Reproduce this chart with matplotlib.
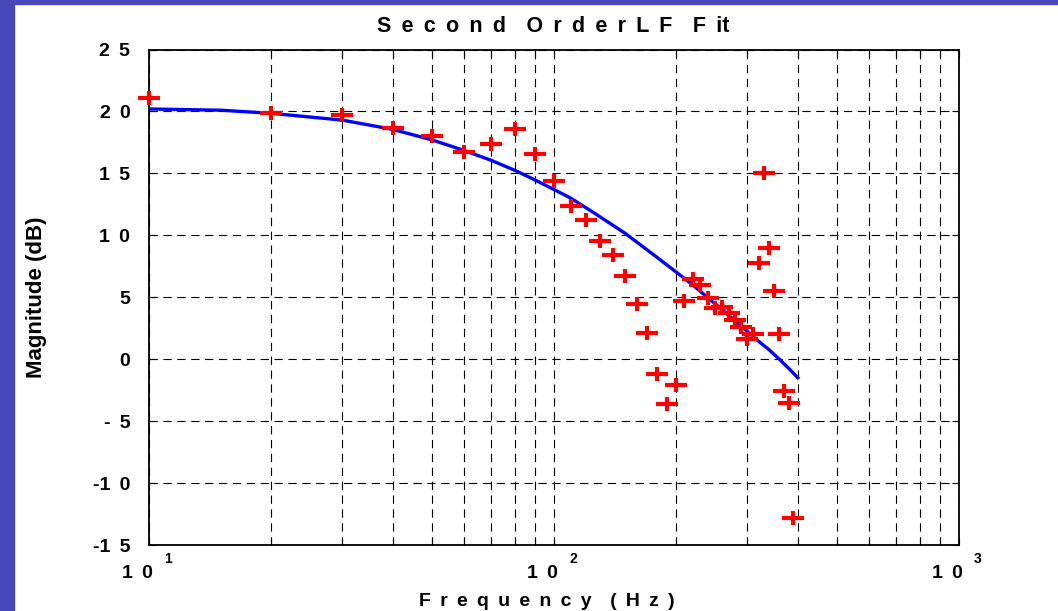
import numpy as np
import matplotlib
matplotlib.use('Agg')
import matplotlib.pyplot as plt
from matplotlib.path import Path
from matplotlib.patches import Rectangle
from matplotlib.ticker import NullFormatter

# measured points (Hz, dB)
freq = [10, 20, 30, 40, 50, 60, 70, 80, 90, 100,
        110, 120, 130, 140, 150, 160, 170, 180, 190, 200,
        210, 220, 230, 240, 250, 260, 270, 280, 290, 300,
        310, 320, 330, 340, 350, 360, 370, 380, 390]
mag = [21.1, 19.9, 19.7, 18.7, 18.0, 16.75, 17.35, 18.6, 16.6, 14.4,
       12.4, 11.25, 9.55, 8.4, 6.7, 4.45, 2.1, -1.2, -3.6, -2.1,
       4.7, 6.5, 6.0, 4.9, 4.1, 4.25, 3.75, 3.2, 2.6, 1.6,
       2.0, 7.8, 15.0, 9.0, 5.5, 2.05, -2.55, -3.5, -12.85]

# second order fit
fit_freq = [10, 15, 20, 30, 40, 50, 60, 70, 80, 90, 100, 110, 125, 150,
            180, 200, 220, 240, 260, 280, 300, 320, 340, 360, 380, 400]
fit_mag = [20.2, 20.1, 19.85, 19.3, 18.55, 17.7, 16.85, 16.05, 15.25, 14.45,
           13.7, 13.0, 11.85, 10.15, 8.2, 7.05, 6.0, 4.95, 4.0, 3.1,
           2.25, 1.45, 0.75, 0.0, -0.75, -1.5]

G = ' \u2009'   # wide letter gap used by the original slide
y_ticks = [25, 20, 15, 10, 5, 0, -5, -10, -15]
y_tick_labels = ['2' + G + '5', '2' + G + '0', '1' + G + '5', '1' + G + '0', '5', '0',
                 '-' + G + '5', '-1' + G + '0', '-1' + G + '5']
x_ticks = [10, 100, 1000]
x_base_labels = ['1' + G + '0'] * 3
x_sup_labels = ['1', '2', '3']

title = 'S' + G + 'e' + G + 'c' + G + 'o' + G + 'n' + G + 'd' + G + G + \
        'O' + G + 'r' + G + 'd' + G + 'e' + G + 'r' + G + 'L' + G + 'F' + G + G + 'F' + G + 'it'
xlabel = 'F' + G + 'r' + G + 'e' + G + 'q' + G + 'u' + G + 'e' + G + 'n' + G + 'c' + G + 'y' + \
         G + G + '(' + G + 'H' + G + 'z' + G + ')'

plt.rcParams['font.family'] = ['Liberation Sans', 'DejaVu Sans']
plt.rcParams['font.weight'] = 'bold'
plt.rcParams['lines.scale_dashes'] = False

W, H = 1058, 611
fig = plt.figure(figsize=(W / 100, H / 100), dpi=100)
fig.patch.set_facecolor('white')

# blue slide border, left and top
fig.patches.append(Rectangle((0, 0), 14 / W, 1, transform=fig.transFigure,
                             color='#4848b8', zorder=0))
fig.patches.append(Rectangle((0, 1 - 4 / H), 1, 4 / H, transform=fig.transFigure,
                             color='#4848b8', zorder=0))

ax = fig.add_axes([149 / W, 1 - 545 / H, (959 - 149) / W, (545 - 49.5) / H])

# wide, flat "+" marker
plus = Path([(-1, 0), (1, 0), (0, -0.6), (0, 0.6)],
            [Path.MOVETO, Path.LINETO, Path.MOVETO, Path.LINETO])

ax.semilogx(fit_freq, fit_mag, color='#0000ff', lw=2.4, zorder=3)
ax.plot(freq, mag, linestyle='none', marker=plus, ms=16.5, mew=3.0,
        color='#ff0000', zorder=4, clip_on=False)

ax.set_xlim(10, 1000)
ax.set_ylim(-15, 25)
ax.set_xticks(x_ticks, ['', '', ''])
ax.set_yticks(y_ticks, y_tick_labels)
ax.xaxis.set_minor_formatter(NullFormatter())

dash = (0, (6, 4))
ax.grid(True, which='both', axis='x', linestyle=dash, color='black', lw=0.8)
ax.grid(True, which='major', axis='y', linestyle=dash, color='black', lw=0.8)

ax.tick_params(which='both', direction='in', top=True, right=True, length=5, width=0.8)
ax.tick_params(axis='y', labelsize=14, pad=13.5)
for s in ax.spines.values():
    s.set_linewidth(1.3)

# x tick labels "1 0" with raised exponent
for xt, base, sup in zip(x_ticks, x_base_labels, x_sup_labels):
    ax.annotate(base, xy=(xt, 0), xycoords=('data', 'axes fraction'),
                xytext=(-12, -28), textcoords='offset pixels',
                ha='center', va='center', fontsize=14, fontweight='bold',
                annotation_clip=False)
    ax.annotate(sup, xy=(xt, 0), xycoords=('data', 'axes fraction'),
                xytext=(19, -14), textcoords='offset pixels',
                ha='center', va='center', fontsize=10, fontweight='bold',
                annotation_clip=False)

ax.set_xlabel(xlabel, fontsize=14, fontweight='bold', va='center')
ax.xaxis.set_label_coords((546.7 - 149) / 810, -(601.7 - 545) / 495.5)
ax.set_ylabel('Magnitude (dB)', fontsize=16, fontweight='bold', va='center', ha='center')
ax.yaxis.set_label_coords(-0.1395, 0.5)

fig.text(553 / W, 1 - 27 / H, title,
         ha='center', va='center', fontsize=15.5, fontweight='bold')

plt.savefig('out.png', dpi=100)
